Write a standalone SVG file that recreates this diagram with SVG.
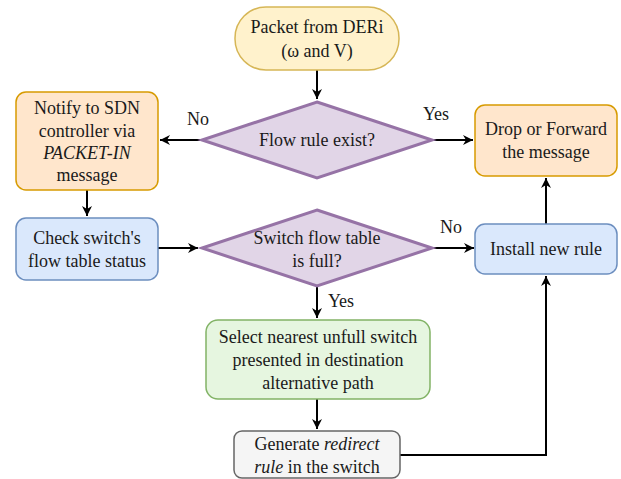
<svg xmlns="http://www.w3.org/2000/svg" width="621" height="479" viewBox="0 0 621 479" font-family="Liberation Serif, Times New Roman, DejaVu Serif, serif">
<defs>
<marker id="arr" markerWidth="12" markerHeight="12" viewBox="0 0 12 12" refX="11" refY="6" orient="auto" markerUnits="userSpaceOnUse">
<path d="M1,1 L11,6 L1,11 L4,6 Z" fill="#000"/>
</marker>
<style>
text{font-size:18px;fill:#1a1a1a;text-anchor:middle}
.c{fill:none;stroke:#000;stroke-width:2}
.or{fill:#ffe6cc;stroke:#d79b00;stroke-width:1.5}
.bl{fill:#dae8fc;stroke:#6c8ebf;stroke-width:1.5}
.pu{fill:#e1d5e7;stroke:#9673a6;stroke-width:3}
.gr{fill:#e6f6e0;stroke:#82b366;stroke-width:1.5}
.gy{fill:#f5f5f5;stroke:#666;stroke-width:1.5}
.ye{fill:#fff2cc;stroke:#d6b656;stroke-width:1.5}
</style>
</defs>
<g id="connectors">
<path class="c" d="M317,70 V99" marker-end="url(#arr)"/>
<path class="c" d="M201,140 H160" marker-end="url(#arr)"/>
<path class="c" d="M432,140 H473" marker-end="url(#arr)"/>
<path class="c" d="M87,190 V216" marker-end="url(#arr)"/>
<path class="c" d="M158,248 H198" marker-end="url(#arr)"/>
<path class="c" d="M432,248 H474" marker-end="url(#arr)"/>
<path class="c" d="M546,224 V178" marker-end="url(#arr)"/>
<path class="c" d="M317,287 V318" marker-end="url(#arr)"/>
<path class="c" d="M317,399 V429" marker-end="url(#arr)"/>
<path class="c" d="M400,455 H546 V276" marker-end="url(#arr)"/>
<text x="198" y="125">No</text>
<text x="436" y="120">Yes</text>
<text x="451" y="233">No</text>
<text x="341" y="307">Yes</text>
</g>
<g id="start">
<rect class="ye" x="235" y="7" width="164" height="63" rx="31" ry="31"/>
<text x="317" y="33">Packet from DERi</text>
<text x="317" y="57">(ω and V)</text>
</g>
<g id="flowrule">
<polygon class="pu" points="317,102 432,140 317,178 202,140"/>
<text x="317" y="146">Flow rule exist?</text>
</g>
<g id="notify">
<rect class="or" x="16" y="92" width="142" height="98" rx="10" ry="10"/>
<text x="87" y="114">Notify to SDN</text>
<text x="87" y="137">controller via</text>
<text x="87" y="159" font-style="italic">PACKET-IN</text>
<text x="87" y="181">message</text>
</g>
<g id="drop">
<rect class="or" x="475" y="105" width="142" height="71" rx="10" ry="10"/>
<text x="546" y="135">Drop or Forward</text>
<text x="546" y="158">the message</text>
</g>
<g id="check">
<rect class="bl" x="16" y="218" width="142" height="62" rx="10" ry="10"/>
<text x="87" y="244">Check switch's</text>
<text x="87" y="267">flow table status</text>
</g>
<g id="full">
<polygon class="pu" points="317,210 432,248 317,286 202,248"/>
<text x="317" y="244">Switch flow table</text>
<text x="317" y="267">is full?</text>
</g>
<g id="install">
<rect class="bl" x="475" y="224" width="142" height="50" rx="10" ry="10"/>
<text x="546" y="255">Install new rule</text>
</g>
<g id="select">
<rect class="gr" x="206" y="320" width="224" height="79" rx="12" ry="12"/>
<text x="318" y="343">Select nearest unfull switch</text>
<text x="318" y="366">presented in destination</text>
<text x="318" y="389">alternative path</text>
</g>
<g id="generate">
<rect class="gy" x="234" y="431" width="166" height="47" rx="8" ry="8"/>
<text x="317" y="450">Generate <tspan font-style="italic">redirect</tspan></text>
<text x="317" y="473"><tspan font-style="italic">rule</tspan> in the switch</text>
</g>
</svg>
